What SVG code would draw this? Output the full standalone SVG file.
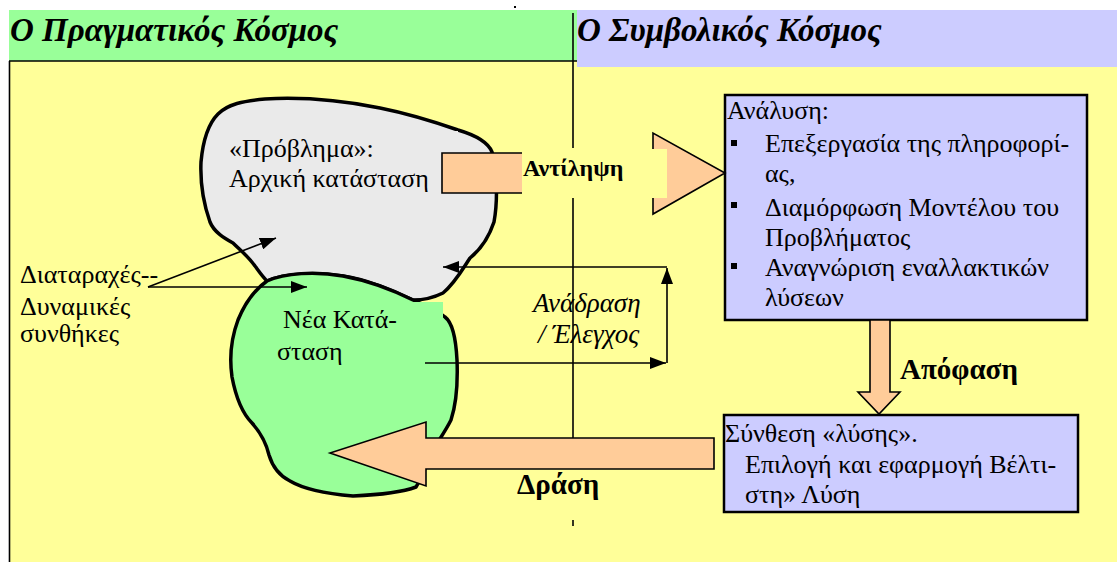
<svg xmlns="http://www.w3.org/2000/svg" width="1117" height="562" viewBox="0 0 1117 562" font-family="'Liberation Serif', 'DejaVu Serif', serif">
  <style>
    text { font-family: 'Liberation Serif', 'DejaVu Serif', serif; fill: #000; }
    .reg { font-size: 26px; }
    .ital { font-size: 27px; font-style: italic; }
    .bold { font-weight: bold; }
    .head { font-size: 33px; font-weight: bold; font-style: italic; }
    .blob { stroke: #000; stroke-width: 3.5; stroke-linejoin: round; }
    .thin { stroke: #000; stroke-width: 1.6; fill: none; }
    .block { fill: #FFCC99; stroke: #000; stroke-width: 1.6; }
    .box { fill: #CCCCFF; stroke: #000; stroke-width: 2.5; }
    .bullet { fill: #000; }
  </style>
  <defs>
    <marker id="triL" viewBox="0 0 16 12" refX="16" refY="6" markerWidth="16" markerHeight="12" markerUnits="userSpaceOnUse" orient="auto">
      <path d="M0,0 L16,6 L0,12 Z" fill="#000"/>
    </marker>
  </defs>

  <!-- page background -->
  <rect x="0" y="0" width="1117" height="562" fill="#fff"/>
  <rect x="9" y="61" width="1108" height="501" fill="#FFFF99"/>

  <!-- column headers -->
  <g id="header-real">
    <rect x="9" y="10" width="568" height="51" fill="#99FF99"/>
    <text class="head" x="10" y="41">Ο  Πραγματικός Κόσμος</text>
  </g>
  <g id="header-symbolic">
    <rect x="577" y="10" width="540" height="57" fill="#CCCCFF"/>
    <text class="head" x="577" y="41">Ο   Συμβολικός Κόσμος</text>
  </g>

  <!-- frame lines and divider -->
  <g id="frame">
    <line class="thin" x1="9" y1="61" x2="577" y2="61"/>
    <line class="thin" x1="9.5" y1="61" x2="9.5" y2="562"/>
    <line class="thin" x1="573" y1="13" x2="573" y2="148"/>
    <line class="thin" x1="573" y1="198" x2="573" y2="438"/>
    <line class="thin" x1="573" y1="520" x2="573" y2="526"/>
    <rect x="514" y="6" width="2" height="2" fill="#000"/>
  </g>

  <!-- initial state: problem -->
  <g id="problem">
    <path class="blob" fill="#EAEAEA" d="M218,114 C228,104 243,101 265,99 C300,97 340,100 380,108 C410,114 435,122 458,130 C475,135 488,142 492,152 C497,170 498,200 494,222 C488,240 480,250 470,258 C462,270 455,283 443,293 C433,298 422,300 413,300 C395,292 370,280 343,276 C315,272 285,273 267,281 C262,276 258,270 255,266 C248,256 240,250 233,243 C224,238 214,232 210,222 C204,205 200,185 201,162 C203,140 208,124 218,114 Z"/>
    <rect x="225" y="131" width="233" height="62" fill="#EAEAEA"/>
    <text class="reg" x="229" y="157">«Πρόβλημα»:</text>
    <text class="reg" x="229" y="187">Αρχική κατάσταση</text>
  </g>

  <!-- new state -->
  <g id="new-state">
    <path class="blob" fill="#99FF99" d="M267,281 C285,273 315,271 343,276 C370,281 395,291 413,300 C425,305 437,310 445,317 C453,323 456,340 457,360 C458,385 456,405 451,420 C446,430 439,440 433,450 C426,465 422,478 416,487 C400,493 375,495 353,496 C330,494 305,490 290,481 C278,475 272,465 269,455 C266,442 260,432 252,423 C243,414 236,398 232,377 C229,356 232,336 238,320 C245,303 254,290 267,281 Z"/>
    <rect x="270" y="302" width="173" height="66" fill="#99FF99"/>
    <text class="reg" x="283" y="328">Νέα Κατά-</text>
    <text class="reg" x="277" y="360">σταση</text>
  </g>

  <!-- disturbances label -->
  <g id="disturbances">
    <text class="reg" x="20" y="283">Διαταραχές--</text>
    <text class="reg" x="20" y="315">Δυναμικές</text>
    <text class="reg" x="20" y="342">συνθήκες</text>
  </g>

  <!-- analysis box -->
  <g id="analysis">
    <rect class="box" x="725" y="95" width="362" height="225"/>
    <text class="reg" x="727" y="119">Ανάλυση:</text>
    <rect class="bullet" x="731" y="140" width="6" height="6"/>
    <rect class="bullet" x="731" y="202" width="6" height="6"/>
    <rect class="bullet" x="731" y="263" width="6" height="6"/>
    <text class="reg" x="765" y="152">Επεξεργασία της πληροφορί-</text>
    <text class="reg" x="765" y="182">ας,</text>
    <text class="reg" x="765" y="216">Διαμόρφωση Μοντέλου του</text>
    <text class="reg" x="765" y="246">Προβλήματος</text>
    <text class="reg" x="765" y="276">Αναγνώριση  εναλλακτικών</text>
    <text class="reg" x="765" y="306">λύσεων</text>
  </g>

  <!-- synthesis box -->
  <g id="synthesis">
    <rect class="box" x="724" y="415" width="354" height="97"/>
    <text class="reg" x="725" y="442">Σύνθεση «λύσης».</text>
    <text class="reg" x="745" y="473">Επιλογή και εφαρμογή Βέλτι-</text>
    <text class="reg" x="745" y="503">στη» Λύση</text>
  </g>

  <!-- connectors -->
  <g id="connectors">
    <!-- perception -->
    <polygon class="block" points="442,153 653,153 653,133 725,173 653,214 653,193 442,193"/>
    <rect x="522" y="149" width="145" height="49" fill="#FFFF99"/>
    <text class="bold" x="523" y="176" font-size="24">Αντίληψη</text>

    <!-- decision -->
    <polygon class="block" points="870,320 890,320 890,392 900,392 879,414 858,392 870,392"/>
    <text class="bold" x="900" y="379" font-size="29">Απόφαση</text>

    <!-- action -->
    <polygon class="block" points="714,438 426,438 426,422 330,453 426,486 426,469 714,469"/>
    <text class="bold" x="517" y="494" font-size="29">Δράση</text>

    <!-- disturbance arrows -->
    <line class="thin" x1="148" y1="287" x2="276" y2="238" marker-end="url(#triL)"/>
    <line class="thin" x1="148" y1="287" x2="307" y2="287" marker-end="url(#triL)"/>

    <!-- feedback / control loop -->
    <line class="thin" x1="425" y1="363" x2="666" y2="363" marker-end="url(#triL)"/>
    <line class="thin" x1="667" y1="363" x2="667" y2="268" marker-end="url(#triL)"/>
    <line class="thin" x1="667" y1="267" x2="443" y2="267" marker-end="url(#triL)"/>
    <text class="ital" x="533" y="312">Ανάδραση</text>
    <text class="ital" x="538" y="343">/ Έλεγχος</text>
  </g>
</svg>
